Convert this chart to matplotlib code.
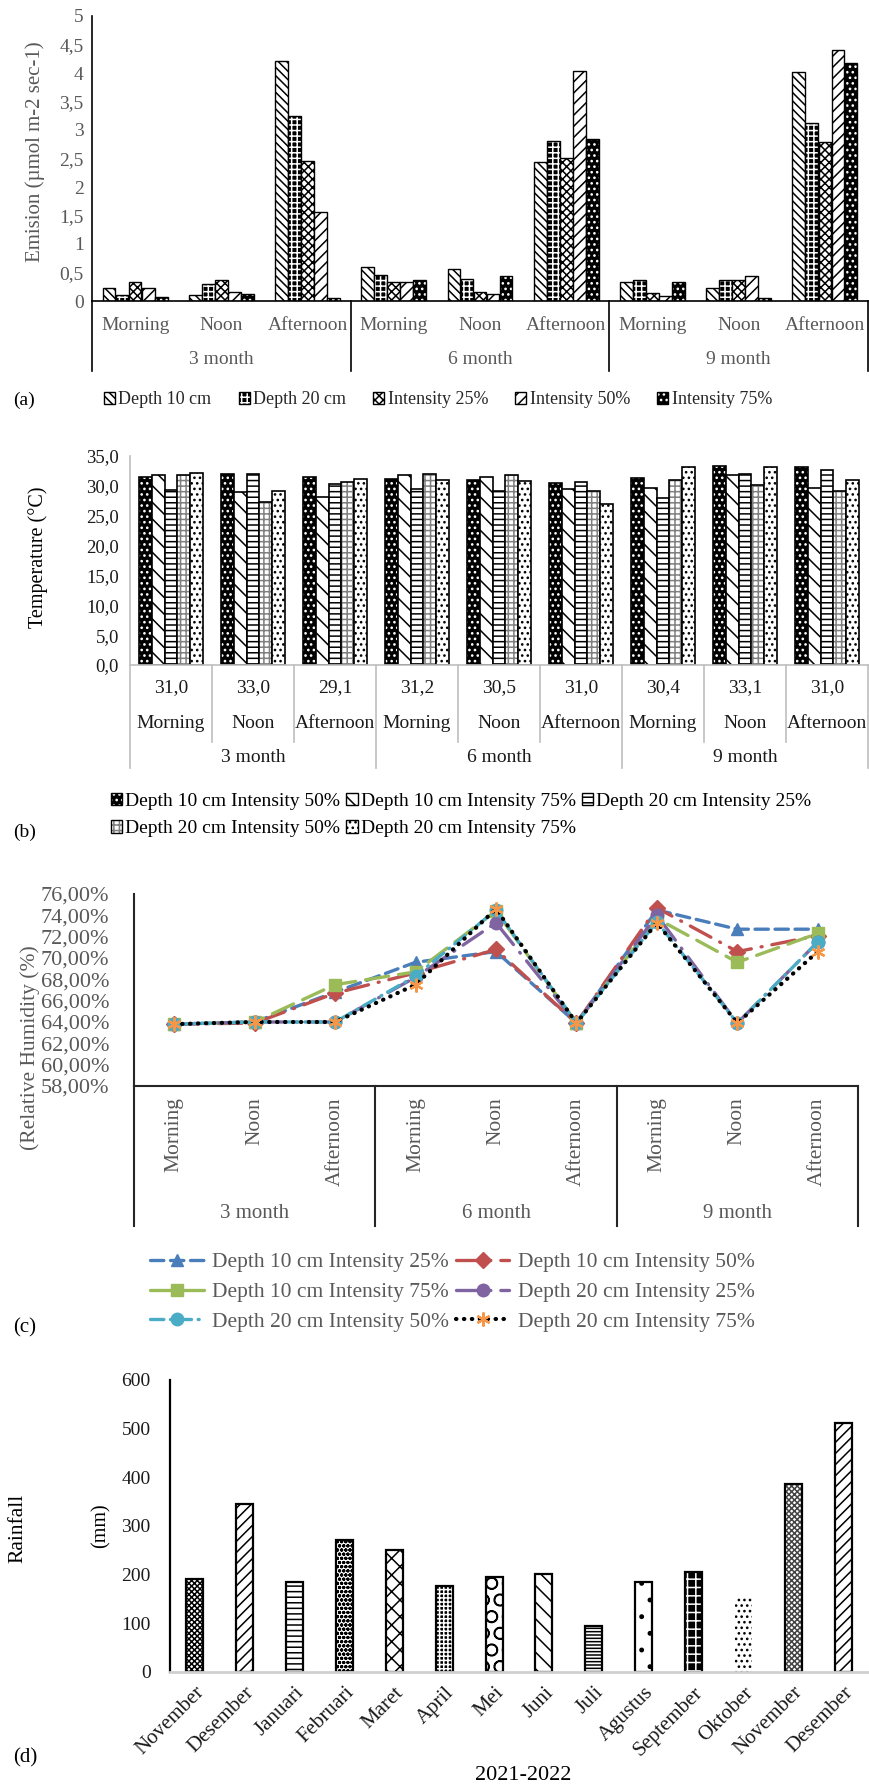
import numpy as np
import matplotlib
matplotlib.use("Agg")
import matplotlib.pyplot as plt
from matplotlib.patches import Patch
from matplotlib.lines import Line2D
from matplotlib.ticker import FuncFormatter, MultipleLocator
from matplotlib.transforms import blended_transform_factory as btf

plt.rcParams['font.family'] = ['Liberation Serif', 'DejaVu Serif']
plt.rcParams['hatch.linewidth'] = 1.1

# ---- data ----
months = ['3 month', '6 month', '9 month']
tod = ['Morning', 'Noon', 'Afternoon'] * 3

# (a) emission
emis_names = ['Depth 10 cm', 'Depth 20 cm', 'Intensity 25%', 'Intensity 50%', 'Intensity 75%']
emis_d10 = [0.22, 0.11, 4.21, 0.60, 0.56, 2.44, 0.33, 0.22, 4.02]
emis_d20 = [0.10, 0.29, 3.25, 0.45, 0.38, 2.80, 0.37, 0.37, 3.12]
emis_i25 = [0.34, 0.37, 2.46, 0.33, 0.16, 2.51, 0.14, 0.37, 2.79]
emis_i50 = [0.22, 0.15, 1.57, 0.33, 0.12, 4.04, 0.09, 0.44, 4.40]
emis_i75 = [0.07, 0.13, 0.06, 0.36, 0.44, 2.85, 0.33, 0.05, 4.18]

# (b) temperature
temp_names = ['Depth 10 cm Intensity 50%', 'Depth 10 cm Intensity 75%', 'Depth 20 cm Intensity 25%',
              'Depth 20 cm Intensity 50%', 'Depth 20 cm Intensity 75%']
t_d10i50 = [31.5, 32.0, 31.4, 31.2, 30.9, 30.5, 31.3, 33.4, 33.2]
t_d10i75 = [31.8, 28.9, 28.1, 31.8, 31.4, 29.5, 29.7, 31.8, 29.7]
t_d20i25 = [29.3, 32.0, 30.3, 29.5, 29.1, 30.6, 27.9, 32.0, 32.6]
t_d20i50 = [31.8, 27.3, 30.7, 32.0, 31.9, 29.2, 30.9, 30.2, 29.2]
t_d20i75 = [32.2, 29.2, 31.2, 31.0, 30.8, 27.0, 33.2, 33.2, 30.9]
t_row = ['31,0', '33,0', '29,1', '31,2', '30,5', '31,0', '30,4', '33,1', '31,0']

# (c) relative humidity
rh_names = ['Depth 10 cm Intensity 25%', 'Depth 10 cm Intensity 50%', 'Depth 10 cm Intensity 75%',
            'Depth 20 cm Intensity 25%', 'Depth 20 cm Intensity 50%', 'Depth 20 cm Intensity 75%']
rh_d10i25 = [63.8, 64.0, 66.8, 69.6, 70.6, 63.9, 74.5, 72.7, 72.7]
rh_d10i50 = [63.8, 63.9, 66.7, 68.6, 70.8, 63.9, 74.7, 70.6, 72.1]
rh_d10i75 = [63.8, 64.0, 67.5, 68.7, 74.4, 63.9, 73.7, 69.6, 72.3]
rh_d20i25 = [63.8, 64.0, 64.0, 68.2, 73.3, 63.9, 74.0, 63.9, 71.5]
rh_d20i50 = [63.8, 64.0, 64.0, 68.3, 74.5, 63.9, 73.4, 63.9, 71.5]
rh_d20i75 = [63.8, 64.0, 64.0, 67.5, 74.6, 63.9, 73.3, 63.9, 70.6]

# (d) rainfall
rain_months = ['November', 'Desember', 'Januari', 'Februari', 'Maret', 'April', 'Mei', 'Juni',
               'Juli', 'Agustus', 'September', 'Oktober', 'November', 'Desember']
rain = [191, 345, 185, 272, 251, 176, 195, 201, 95, 184, 205, 154, 387, 511]

W, H = 869, 1787
fig = plt.figure(figsize=(W / 100, H / 100), dpi=100)


def add_ax(l, t, r, b):
    return fig.add_axes([l / W, 1 - b / H, (r - l) / W, (b - t) / H])


def yf(px):
    return 1 - px / H


def hbar(ax, x, h, w, face, hatch, hcol, edge='black', lw=1.0):
    ax.bar(x, h, w, color=face, edgecolor=hcol, hatch=hatch, linewidth=0)
    if edge is not None:
        ax.bar(x, h, w, fill=False, edgecolor=edge, linewidth=lw)


def proxy(face, hatch, hcol, edge='black'):
    return (Patch(facecolor=face, edgecolor=hcol, hatch=hatch, linewidth=0),
            Patch(fill=False, edgecolor=edge, linewidth=1.0))


def comma(fmt):
    return FuncFormatter(lambda v, p: fmt(v).replace('.', ','))


x = np.arange(9)
GRAY = '#595959'

# ================= (a) =================
ax = add_ax(92, 16, 868, 301)
styles_a = [('white', '\\\\\\\\', 'black'), ('black', '+++', 'white'), ('white', 'xxxx', 'black'),
            ('white', '///', 'black'), ('black', '...', 'white')]
series_a = [emis_d10, emis_d20, emis_i25, emis_i50, emis_i75]
bw = 0.148
for k, (vals, st) in enumerate(zip(series_a, styles_a)):
    hbar(ax, x + (k - 2) * bw * 1.02, vals, bw, st[0], st[1], st[2])
ax.set_xlim(-0.5, 8.5)
ax.set_ylim(0, 5)
ax.yaxis.set_major_locator(MultipleLocator(0.5))
ax.yaxis.set_major_formatter(comma(lambda v: f'{v:g}'))
ax.tick_params(axis='y', length=0, labelsize=14, labelcolor=GRAY, pad=6)
ax.set_xticks([])
for s in ['top', 'right']:
    ax.spines[s].set_visible(False)
for s in ['left', 'bottom']:
    ax.spines[s].set_linewidth(1.2)
tr = btf(ax.transData, fig.transFigure)
for i, t in enumerate(tod):
    ax.text(i, yf(325), t, transform=tr, ha='center', va='center', fontsize=14, color=GRAY, clip_on=False)
for g, m in enumerate(months):
    ax.text(3 * g + 1, yf(360), m, transform=tr, ha='center', va='center', fontsize=14, color=GRAY, clip_on=False)
for xs in [-0.5, 2.5, 5.5, 8.5]:
    fig.add_artist(Line2D([xs, xs], [yf(301), yf(371)], transform=tr, color='black', lw=1.2))
fig.text(35 / W, yf(152), 'Emision (µmol m-2 sec-1)', rotation=90, ha='center', va='center',
         fontsize=15, color=GRAY)
fig.legend([proxy(*s) for s in styles_a], emis_names, loc='center left',
           bbox_to_anchor=(95 / W, yf(400)), ncol=5, frameon=False, borderpad=0,
           fontsize=13, handlelength=0.6, handleheight=0.6, handletextpad=0.2, columnspacing=1.5,
           labelcolor='#262626')
fig.text(13 / W, yf(400), '(a)', ha='left', va='center', fontsize=14)

# ================= (b) =================
ax = add_ax(130, 456, 868, 665)
styles_b = [('black', '...', 'white'), ('white', '\\\\', 'black'), ('white', '---', 'black'),
            ('white', '+++', '#808080'), ('white', '...', 'black')]
series_b = [t_d10i50, t_d10i75, t_d20i25, t_d20i50, t_d20i75]
bw = 0.155
for k, (vals, st) in enumerate(zip(series_b, styles_b)):
    hbar(ax, x + (k - 2) * bw, vals, bw, st[0], st[1], st[2], lw=1.2)
ax.set_xlim(-0.5, 8.5)
ax.set_ylim(0, 35)
ax.yaxis.set_major_locator(MultipleLocator(5))
ax.yaxis.set_major_formatter(comma(lambda v: f'{v:.1f}'))
ax.tick_params(axis='y', length=0, labelsize=13.5, labelcolor='#1a1a1a', pad=8)
ax.set_xticks([])
for s in ['top', 'right']:
    ax.spines[s].set_visible(False)
for s in ['left', 'bottom']:
    ax.spines[s].set_color('#BFBFBF')
    ax.spines[s].set_linewidth(1.2)
tr = btf(ax.transData, fig.transFigure)
for i in range(9):
    ax.text(i, yf(688), t_row[i], transform=tr, ha='center', va='center', fontsize=14, color='#1a1a1a', clip_on=False)
    ax.text(i, yf(723), tod[i], transform=tr, ha='center', va='center', fontsize=14, color='#1a1a1a', clip_on=False)
for g, m in enumerate(months):
    ax.text(3 * g + 1, yf(757), m, transform=tr, ha='center', va='center', fontsize=14, color='#1a1a1a', clip_on=False)
for xs in np.arange(-0.5, 9, 1.0):
    end = 768 if xs in (-0.5, 2.5, 5.5, 8.5) else 742
    fig.add_artist(Line2D([xs, xs], [yf(665), yf(end)], transform=tr, color='#BFBFBF', lw=1.2))
fig.text(38 / W, yf(557), 'Temperature (°C)', rotation=90, ha='center', va='center', fontsize=14.5)
hb = [proxy(*s) for s in styles_b]
order = [0, 3, 1, 4, 2]
fig.legend([hb[i] for i in order], [temp_names[i] for i in order], loc='center left',
           bbox_to_anchor=(101 / W, yf(815)), ncol=3, frameon=False, borderpad=0,
           fontsize=14, handlelength=0.6, handleheight=0.6, handletextpad=0.15,
           columnspacing=0.3, labelspacing=0.55)
fig.text(13 / W, yf(832), '(b)', ha='left', va='center', fontsize=14)

# ================= (c) =================
ax = add_ax(134, 894, 858, 1086)
series_c = [rh_d10i25, rh_d10i50, rh_d10i75, rh_d20i25, rh_d20i50, rh_d20i75]
line_styles = [
    dict(color='#4A7EBB', ls=(0, (4, 2)), marker='^', ms=9, lw=2.4),
    dict(color='#C0504D', ls=(0, (7, 3, 0.3, 3)), marker='D', ms=8, lw=2.4),
    dict(color='#9BBB59', ls=(0, (7, 3)), marker='s', ms=9, lw=2.4),
    dict(color='#8064A2', ls=(0, (7, 3, 0.3, 3)), marker='o', ms=9, lw=2.4),
    dict(color='#4BACC6', ls=(0, (4, 2, 0.3, 2)), marker='o', ms=9, lw=2.4),
    dict(color='black', ls=(0, (0.1, 1.8)), marker=(6, 2, 0), ms=10, mec='#F79646', mew=1.6, lw=3.0),
]
handles_c = []
for vals, st in zip(series_c, line_styles):
    ln, = ax.plot(x, vals, dash_capstyle='round', solid_capstyle='round', **st)
    if 'mec' not in st:
        ln.set_markeredgecolor(st['color'])
    handles_c.append(ln)
ax.set_xlim(-0.5, 8.5)
ax.set_ylim(58, 76)
ax.yaxis.set_major_locator(MultipleLocator(2))
ax.yaxis.set_major_formatter(comma(lambda v: f'{v:.2f}%'))
ax.tick_params(axis='y', length=0, labelsize=16, labelcolor=GRAY, pad=18)
ax.set_xticks([])
for s in ['top', 'right']:
    ax.spines[s].set_visible(False)
for s in ['left', 'bottom']:
    ax.spines[s].set_color('#262626')
    ax.spines[s].set_linewidth(1.5)
tr = btf(ax.transData, fig.transFigure)
for i, t in enumerate(tod):
    ax.text(i, yf(1097), t, transform=tr, rotation=90, ha='center', va='top', fontsize=15.5, color=GRAY, clip_on=False)
for g, m in enumerate(months):
    ax.text(3 * g + 1, yf(1213), m, transform=tr, ha='center', va='center', fontsize=15, color=GRAY, clip_on=False)
for xs in [-0.5, 2.5, 5.5, 8.5]:
    fig.add_artist(Line2D([xs, xs], [yf(1086), yf(1226)], transform=tr, color='#262626', lw=1.5))
fig.text(30 / W, yf(1048), '(Relative Humidity (%)', rotation=90, ha='center', va='center',
         fontsize=15.5, color=GRAY)
order = [0, 2, 4, 1, 3, 5]
fig.legend([handles_c[i] for i in order], [rh_names[i] for i in order], loc='center left',
           bbox_to_anchor=(139 / W, yf(1292)), ncol=2, frameon=False, borderpad=0,
           fontsize=15.5, handlelength=2.5, handletextpad=0.4, columnspacing=0.3,
           labelspacing=0.45, numpoints=1, labelcolor=GRAY)
fig.text(13 / W, yf(1328), '(c)', ha='left', va='center', fontsize=15)

# ================= (d) =================
ax = add_ax(170, 1380, 868, 1672)
styles_d = [('white', 'xxxxxx', 'black'), ('white', '///', 'black'), ('white', '---', 'black'),
            ('white', 'oooo', 'black'), ('white', 'xx', 'black'), ('black', '++++', 'white'),
            ('white', 'O', 'black'), ('white', '\\\\', 'black'), ('white', '-----', 'black'),
            ('white', '.', 'black'), ('black', '++', 'white'), ('white', '...', 'black'),
            ('white', 'xxxxxx', '#444444'), ('white', '///', 'black')]
xd = np.arange(len(rain))
for i, st in enumerate(styles_d):
    edge = None if rain_months[i] == 'Oktober' else 'black'
    hbar(ax, xd[i], rain[i], 0.34, st[0], st[1], st[2], edge=edge, lw=1.6)
ax.set_xlim(-0.5, len(rain) - 0.5)
ax.set_ylim(0, 600)
ax.yaxis.set_major_locator(MultipleLocator(100))
ax.tick_params(axis='y', length=0, labelsize=14, labelcolor='#1a1a1a', pad=14)
ax.set_xticks(xd)
ax.set_xticklabels(rain_months, rotation=45, ha='right', rotation_mode='anchor', fontsize=15, color='#1a1a1a')
ax.tick_params(axis='x', length=0, pad=8)
for s in ['top', 'right']:
    ax.spines[s].set_visible(False)
ax.spines['left'].set_linewidth(1.6)
ax.spines['bottom'].set_color('#D0D0D0')
ax.spines['bottom'].set_linewidth(2)
fig.text(18 / W, yf(1528), 'Rainfall', rotation=90, ha='center', va='center', fontsize=15.5)
fig.text(101 / W, yf(1526), '(mm)', rotation=90, ha='center', va='center', fontsize=14.5)
fig.text(523 / W, yf(1775), '2021-2022', ha='center', va='center', fontsize=16)
fig.text(13 / W, yf(1758), '(d)', ha='left', va='center', fontsize=15)

fig.savefig('out.png', dpi=100)
